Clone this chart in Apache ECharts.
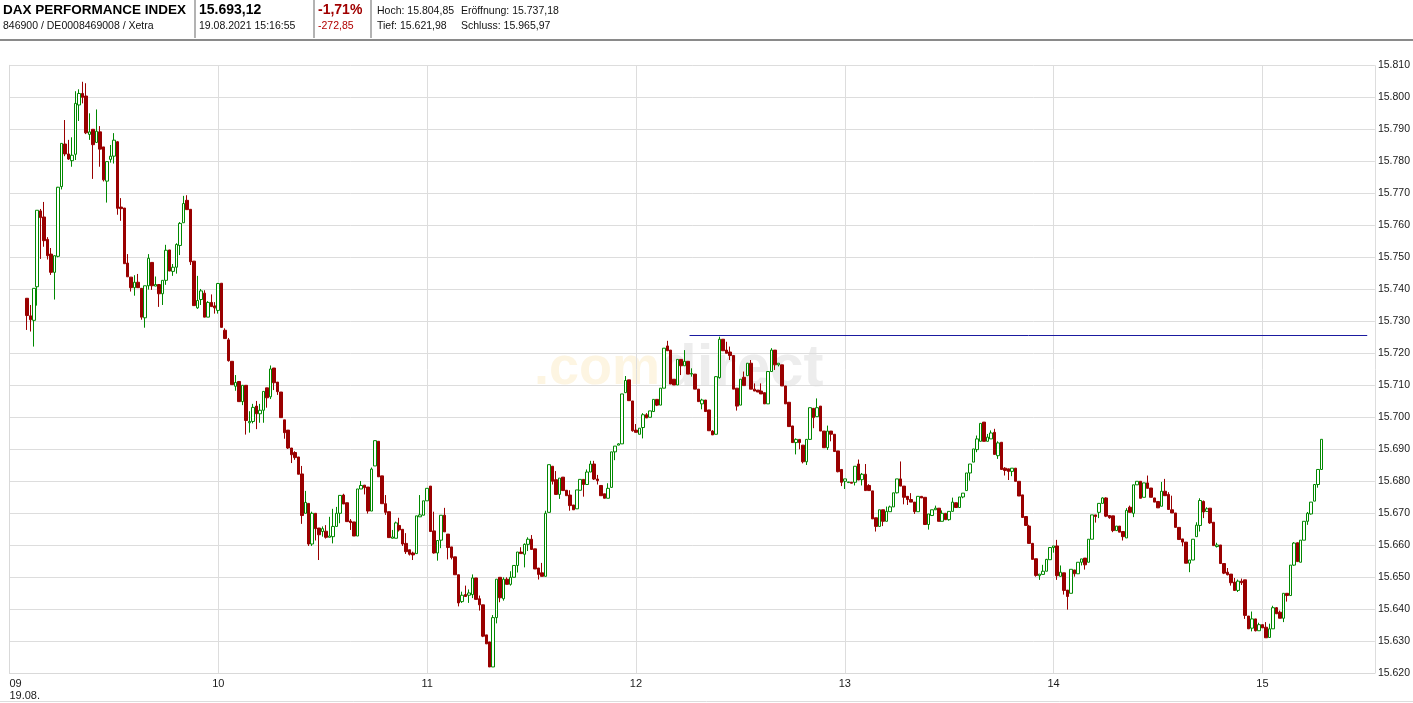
<!DOCTYPE html>
<html>
<head>
<meta charset="utf-8">
<script src="https://cdn.jsdelivr.net/npm/echarts@6/dist/echarts.min.js"></script>
<style>
html,body{margin:0;padding:0;background:#fff;}
#chart{width:1413px;height:703px;}
</style>
</head>
<body>
<div id="chart"></div>
<script>
// ---- header texts ----
const titleText = 'DAX PERFORMANCE INDEX';
const idText = '846900 / DE0008469008 / Xetra';
const lastText = '15.693,12';
const timeText = '19.08.2021 15:16:55';
const pctText = '-1,71%';
const diffText = '-272,85';
const highText = 'Hoch: 15.804,85';
const openText = 'Eröffnung: 15.737,18';
const lowText = 'Tief: 15.621,98';
const prevText = 'Schluss: 15.965,97';
const watermarkA = '.com';
const watermarkB = 'direct';

// ---- axis labels ----
const hourLabels = ['09', '10', '11', '12', '13', '14', '15'];
const dateLabel = '19.08.';
const axisEndMinute = 392.3;      // minutes after 09:00 at the right edge
const firstBarMinute = 5;         // bar close time of first 1-minute bar (09:05)
const priceMin = 15620, priceMax = 15810, priceStep = 10;

// ---- horizontal line drawn on the chart ----
const levelLine = { from: 195.4, to: 390.1, value: 15725.6 };

// ---- 1-minute OHLC values ----
const open = [
15737.2,15731.7,15730.3,15740.8,15764.5,15762.6,15755.6,15751.0,15745.3,15750.3,
15772.1,15785.4,15782.3,15780.2,15782.2,15797.6,15801.2,15800.4,15788.4,15790.0,
15785.9,15789.2,15784.5,15773.8,15780.6,15781.6,15786.1,15765.7,15765.4,15748.2,
15743.8,15740.5,15742.2,15740.3,15731.1,15741.1,15748.4,15741.0,15741.5,15738.6,
15742.8,15752.3,15745.6,15746.9,15753.7,15760.8,15767.8,15765.0,15748.8,15734.2,
15736.8,15738.8,15731.3,15735.9,15734.8,15733.4,15741.9,15727.2,15724.2,15717.5,
15709.7,15711.2,15704.9,15710.0,15698.3,15698.7,15703.5,15701.1,15702.2,15709.2,
15706.4,15715.4,15711.0,15707.9,15699.2,15696.0,15690.4,15689.0,15687.6,15682.3,
15670.0,15673.1,15660.4,15670.0,15665.4,15664.3,15664.4,15662.5,15662.7,15665.9,
15670.0,15675.7,15673.3,15667.6,15667.3,15662.9,15677.6,15678.8,15678.2,15670.7,
15684.8,15692.5,15681.7,15673.0,15670.5,15662.2,15662.2,15666.2,15665.0,15660.6,
15658.6,15657.6,15657.4,15668.9,15669.4,15673.9,15678.5,15664.5,15657.6,15661.6,
15669.4,15663.5,15659.5,15656.4,15650.8,15642.4,15644.6,15644.4,15644.6,15649.8,
15643.3,15641.4,15632.0,15629.8,15621.98,15637.4,15650.0,15643.3,15649.4,15647.8,
15650.0,15653.7,15657.9,15657.2,15660.3,15661.9,15658.9,15652.9,15651.4,15650.3,
15670.3,15684.7,15680.5,15675.9,15681.3,15677.2,15675.7,15672.6,15671.4,15677.2,
15680.6,15679.0,15682.9,15685.4,15680.7,15678.7,15676.1,15674.7,15678.1,15689.2,
15691.3,15691.7,15707.7,15711.7,15705.1,15696.0,15694.7,15696.8,15700.8,15700.0,
15701.8,15705.6,15703.8,15709.1,15722.3,15721.0,15711.9,15710.1,15718.1,15716.1,
15717.5,15713.5,15713.5,15708.8,15704.2,15705.4,15702.3,15695.7,15694.7,15712.4,
15724.4,15721.0,15720.4,15719.3,15709.1,15703.8,15712.5,15713.0,15716.9,15708.8,
15708.5,15708.2,15707.7,15704.2,15714.3,15721.0,15716.4,15716.4,15709.8,15704.7,
15697.3,15692.1,15693.1,15691.3,15686.1,15693.1,15702.8,15700.2,15703.5,15695.7,
15690.5,15695.7,15694.7,15689.5,15683.7,15680.0,15679.6,15679.7,15679.7,15685.4,
15680.5,15682.2,15678.7,15677.0,15668.6,15665.9,15671.1,15667.5,15670.5,15672.0,
15676.4,15680.75,15678.5,15675.3,15674.3,15673.5,15670.5,15675.3,15675.0,15666.5,
15669.3,15671.1,15671.6,15667.5,15670.0,15668.0,15670.6,15673.3,15671.8,15675.1,
15677.1,15682.6,15686.0,15689.9,15692.5,15698.5,15692.5,15693.25,15695.3,15688.0,
15692.2,15684.1,15683.9,15683.1,15684.1,15680.0,15675.75,15669.0,15666.0,15660.6,
15655.8,15650.5,15650.9,15651.9,15655.5,15659.3,15659.8,15650.3,15651.4,15646.0,
15645.0,15652.3,15651.1,15654.7,15656.0,15654.7,15661.9,15669.5,15670.3,15673.1,
15674.8,15669.3,15669.2,15664.6,15666.0,15664.3,15662.3,15671.9,15670.0,15678.9,
15680.0,15675.0,15679.5,15677.9,15674.8,15673.7,15672.2,15676.9,15675.9,15671.1,
15670.1,15665.6,15662.0,15661.0,15654.4,15655.4,15662.7,15666.2,15673.7,15670.6,
15671.6,15667.2,15659.6,15660.1,15654.3,15651.6,15651.0,15648.5,15645.9,15648.8,
15649.2,15637.9,15634.1,15637.0,15633.3,15635.2,15634.4,15631.2,15633.9,15640.5,
15639.1,15637.2,15645.0,15644.3,15653.8,15660.8,15654.7,15661.6,15667.5,15669.8,
15673.8,15679.0,15683.7
];
const close = [
15731.8,15730.5,15740.3,15764.7,15762.4,15755.2,15750.5,15745.3,15750.5,15771.9,
15785.6,15782.3,15780.7,15781.9,15798.1,15801.2,15800.0,15788.9,15789.2,15785.2,
15789.4,15783.8,15774.2,15779.9,15781.6,15786.6,15765.3,15765.2,15748.0,15743.9,
15740.5,15742.2,15740.5,15731.3,15741.1,15749.7,15741.1,15741.5,15738.6,15742.8,
15752.2,15745.7,15746.9,15754.0,15760.6,15766.8,15764.9,15748.6,15734.9,15736.5,
15739.5,15731.3,15735.9,15734.6,15734.2,15741.8,15728.1,15724.6,15717.7,15710.2,
15710.9,15704.9,15710.0,15699.0,15698.7,15703.1,15701.1,15702.2,15708.1,15706.1,
15715.1,15710.8,15708.0,15699.9,15695.2,15690.4,15688.3,15687.4,15682.2,15669.3,
15673.4,15660.4,15670.0,15665.2,15663.3,15665.2,15662.5,15662.9,15665.9,15670.0,
15675.6,15672.9,15667.4,15667.1,15662.9,15677.6,15678.7,15678.0,15670.7,15683.8,
15692.7,15681.4,15673.0,15670.3,15662.4,15662.6,15667.0,15664.8,15660.4,15658.0,
15657.2,15657.0,15669.2,15669.5,15673.9,15677.8,15664.3,15657.6,15661.5,15669.4,
15664.2,15659.3,15656.2,15650.8,15642.0,15644.4,15644.0,15645.1,15649.8,15643.1,
15641.4,15631.6,15629.2,15621.98,15637.4,15649.4,15643.6,15649.4,15647.8,15650.0,
15653.7,15657.9,15657.4,15660.3,15661.9,15658.7,15652.6,15650.9,15650.3,15670.0,
15685.2,15680.0,15675.9,15681.0,15677.1,15675.5,15672.4,15671.1,15677.3,15680.6,
15679.0,15682.9,15685.4,15680.7,15680.2,15675.5,15674.7,15677.8,15689.2,15691.0,
15691.7,15707.3,15711.5,15705.2,15695.8,15695.3,15696.6,15700.8,15699.8,15702.0,
15705.6,15703.8,15709.1,15721.6,15720.8,15710.4,15710.1,15718.1,15716.1,15717.5,
15713.5,15713.7,15708.8,15704.9,15705.4,15701.8,15695.8,15694.5,15712.7,15724.4,
15720.8,15720.0,15719.3,15708.8,15703.5,15711.9,15709.9,15716.9,15708.8,15708.2,
15707.9,15707.3,15704.2,15714.3,15721.0,15716.4,15716.9,15709.8,15704.2,15697.1,
15692.1,15693.1,15692.1,15686.1,15693.1,15703.0,15699.9,15703.0,15695.7,15690.5,
15695.7,15694.7,15689.3,15683.0,15679.7,15680.75,15679.8,15679.4,15684.7,15680.4,
15682.2,15677.1,15677.1,15668.25,15665.9,15671.1,15667.5,15670.6,15672.0,15676.4,
15680.75,15678.5,15675.0,15674.3,15673.5,15670.5,15675.3,15674.8,15666.5,15669.8,
15671.1,15671.6,15667.5,15670.0,15668.0,15670.6,15673.5,15671.8,15675.1,15676.3,
15682.6,15685.4,15690.1,15693.25,15698.1,15692.5,15693.8,15695.1,15688.4,15692.0,
15683.7,15683.4,15683.1,15684.1,15680.0,15675.4,15668.7,15666.2,15660.6,15655.6,
15650.6,15651.0,15651.9,15655.6,15659.3,15659.8,15650.5,15651.6,15645.9,15644.0,
15652.5,15651.1,15654.7,15655.75,15653.9,15661.9,15669.5,15669.0,15673.1,15674.8,
15669.1,15668.6,15664.6,15666.0,15664.1,15662.7,15670.9,15670.3,15678.9,15680.0,
15674.7,15679.5,15677.8,15675.0,15673.5,15671.7,15676.9,15675.5,15671.2,15670.1,
15665.6,15661.8,15661.0,15654.4,15655.4,15661.9,15666.3,15674.0,15670.4,15671.4,
15667.0,15659.9,15660.1,15654.3,15651.3,15650.8,15648.3,15645.9,15648.8,15648.3,
15638.1,15633.9,15637.0,15633.3,15635.2,15634.2,15631.1,15633.9,15640.5,15638.6,
15637.2,15645.0,15644.3,15653.8,15660.7,15654.9,15661.6,15667.5,15670.0,15673.5,
15679.0,15683.7,15693.12
];
const low = [
15727.3,15726.8,15722.1,15734.9,15749.5,15753.3,15749.3,15744.5,15736.8,15750.0,
15771.2,15781.6,15780.4,15778.3,15780.4,15792.6,15798.1,15788.5,15786.7,15774.5,
15785.9,15778.3,15773.7,15767.1,15779.6,15779.3,15763.3,15761.4,15748.0,15743.9,
15739.3,15738.0,15740.5,15730.5,15728.0,15739.9,15739.8,15741.0,15734.5,15735.1,
15741.4,15745.7,15744.2,15744.9,15750.7,15760.8,15764.9,15747.6,15734.9,15733.9,
15735.1,15731.3,15731.3,15734.6,15732.4,15732.4,15728.1,15724.6,15717.4,15710.2,
15708.3,15704.9,15703.8,15694.6,15695.2,15698.1,15696.3,15698.3,15698.3,15703.0,
15705.7,15708.5,15707.0,15699.9,15693.3,15690.1,15685.7,15686.7,15682.2,15666.7,
15670.0,15659.8,15659.8,15661.5,15655.4,15662.7,15662.1,15662.5,15660.6,15665.9,
15666.9,15672.9,15667.4,15664.8,15662.9,15662.9,15677.6,15675.9,15669.9,15670.7,
15684.8,15681.4,15673.0,15669.5,15662.4,15662.2,15662.2,15664.3,15659.8,15657.3,
15656.8,15655.4,15657.4,15668.9,15669.4,15673.9,15664.3,15657.4,15655.2,15659.1,
15664.2,15655.6,15655.6,15650.8,15640.9,15642.0,15644.0,15642.0,15643.5,15643.1,
15639.6,15631.3,15629.2,15621.98,15621.98,15635.6,15642.2,15642.7,15647.8,15647.4,
15650.0,15651.5,15657.4,15653.1,15658.2,15658.7,15652.6,15649.3,15650.3,15650.3,
15670.3,15679.0,15675.9,15674.5,15677.1,15675.5,15670.8,15671.1,15671.4,15677.2,
15675.2,15679.0,15682.9,15680.4,15679.0,15675.5,15674.7,15674.7,15678.1,15686.6,
15691.3,15691.7,15707.7,15705.2,15695.5,15695.3,15694.7,15693.4,15699.8,15700.0,
15701.8,15703.5,15703.8,15709.1,15720.8,15710.4,15710.1,15710.1,15713.2,15716.1,
15713.5,15712.7,15708.8,15704.9,15702.5,15701.8,15695.8,15694.5,15694.7,15712.1,
15720.8,15720.0,15717.9,15708.8,15702.1,15703.8,15709.9,15713.0,15708.8,15708.2,
15707.9,15707.3,15704.2,15704.2,15714.3,15714.8,15715.9,15709.8,15704.2,15697.1,
15692.1,15688.4,15690.0,15685.6,15685.1,15692.9,15696.6,15700.2,15695.7,15690.5,
15689.8,15692.5,15689.3,15682.8,15678.5,15677.6,15679.6,15679.4,15678.7,15680.4,
15678.7,15677.1,15677.1,15668.25,15664.3,15665.9,15666.0,15667.5,15670.5,15672.0,
15676.2,15678.5,15672.8,15672.6,15673.5,15669.8,15670.5,15674.8,15666.5,15664.9,
15669.3,15671.1,15667.5,15667.5,15668.0,15667.7,15670.6,15671.8,15671.8,15674.7,
15677.1,15680.2,15686.0,15689.1,15692.5,15692.5,15692.5,15693.25,15688.4,15687.0,
15683.7,15681.8,15680.4,15681.6,15680.0,15675.4,15668.7,15666.2,15660.6,15655.6,
15650.2,15649.2,15650.9,15651.9,15655.5,15657.7,15649.2,15650.3,15644.6,15639.9,
15645.0,15650.2,15651.1,15653.7,15652.4,15654.7,15661.9,15667.1,15668.5,15673.1,
15668.8,15668.3,15664.1,15664.6,15664.1,15661.5,15662.3,15670.3,15668.8,15678.9,
15674.7,15675.0,15677.8,15675.0,15673.5,15671.7,15672.2,15675.5,15671.2,15670.1,
15665.6,15661.8,15659.7,15654.4,15651.6,15655.4,15662.7,15664.3,15668.5,15670.4,
15666.7,15659.9,15659.3,15654.3,15651.0,15650.6,15647.4,15645.9,15645.4,15647.6,
15637.0,15633.9,15633.1,15633.1,15633.3,15634.2,15631.1,15631.2,15633.9,15638.6,
15637.2,15636.0,15642.4,15644.3,15653.6,15654.9,15654.7,15661.6,15666.4,15669.6,
15673.8,15678.0,15683.7
];
const high = [
15737.2,15735.1,15740.3,15764.7,15765.1,15767.3,15756.3,15752.9,15750.5,15772.0,
15785.6,15792.9,15786.7,15787.5,15801.9,15802.5,15804.85,15804.4,15795.0,15790.0,
15796.2,15791.0,15784.5,15779.9,15785.1,15788.8,15786.3,15768.5,15765.4,15751.0,
15743.8,15744.4,15744.8,15740.3,15741.1,15751.0,15748.4,15744.0,15741.5,15742.8,
15753.9,15752.3,15747.9,15754.4,15761.0,15769.2,15769.4,15765.0,15748.8,15744.2,
15740.1,15739.7,15736.3,15738.4,15736.0,15742.0,15741.9,15727.8,15724.8,15717.5,
15713.2,15711.2,15710.0,15710.0,15701.9,15704.2,15705.1,15704.2,15708.1,15709.2,
15716.2,15715.4,15711.0,15707.9,15699.2,15696.0,15690.4,15689.4,15687.6,15684.8,
15677.0,15673.1,15670.5,15670.0,15665.4,15665.9,15666.3,15668.9,15671.4,15672.0,
15675.6,15676.1,15673.3,15668.2,15667.3,15677.6,15680.1,15678.8,15678.2,15684.3,
15692.7,15692.5,15681.7,15675.7,15670.5,15664.8,15667.4,15668.6,15665.0,15663.8,
15658.6,15658.0,15669.2,15675.7,15673.9,15677.8,15678.5,15670.5,15661.5,15669.4,
15671.7,15663.5,15659.5,15656.4,15650.8,15645.5,15647.4,15646.2,15650.9,15649.8,
15644.3,15641.4,15632.0,15629.8,15638.2,15649.4,15650.0,15650.0,15650.0,15651.9,
15653.7,15657.9,15659.4,15660.6,15662.5,15663.2,15658.9,15652.9,15654.5,15670.8,
15685.2,15684.7,15683.2,15681.0,15681.3,15677.2,15677.2,15672.6,15677.3,15680.6,
15680.6,15683.7,15686.4,15686.4,15682.0,15678.7,15676.1,15679.4,15689.2,15691.0,
15691.9,15707.3,15712.9,15711.7,15705.1,15697.9,15696.6,15701.3,15701.3,15702.0,
15705.6,15705.6,15709.1,15721.6,15723.9,15721.0,15711.9,15718.1,15718.1,15721.0,
15717.5,15715.3,15713.5,15708.8,15705.8,15705.4,15702.3,15696.0,15712.9,15725.2,
15724.4,15723.6,15722.1,15719.3,15709.1,15711.9,15714.3,15716.9,15717.9,15710.6,
15708.5,15710.6,15707.7,15714.3,15721.6,15721.0,15716.9,15716.4,15709.8,15704.7,
15697.3,15693.4,15693.1,15691.3,15693.1,15703.0,15702.8,15705.9,15703.5,15695.7,
15697.4,15695.7,15694.7,15689.5,15683.7,15680.75,15679.8,15679.7,15684.7,15686.8,
15682.6,15685.4,15679.1,15677.0,15668.6,15671.1,15671.1,15672.1,15672.4,15676.4,
15680.75,15686.2,15678.5,15675.3,15676.3,15673.5,15675.3,15675.3,15675.0,15669.8,
15671.1,15672.4,15671.6,15670.9,15670.0,15670.6,15674.9,15673.3,15675.1,15676.3,
15682.6,15685.4,15690.1,15694.3,15698.1,15698.5,15694.8,15695.9,15696.4,15692.5,
15692.2,15684.4,15683.9,15684.1,15684.1,15680.0,15675.75,15669.0,15666.4,15660.75,
15655.8,15651.0,15653.9,15655.75,15659.4,15659.8,15661.7,15653.7,15651.4,15646.0,
15652.5,15652.3,15654.7,15655.75,15656.0,15661.9,15669.5,15669.5,15673.1,15675.0,
15675.0,15669.3,15669.2,15666.0,15666.0,15664.3,15671.6,15672.4,15678.9,15680.0,
15680.0,15679.5,15681.8,15677.9,15674.8,15673.7,15679.8,15680.75,15676.6,15675.5,
15670.1,15665.6,15662.0,15661.0,15655.4,15661.9,15667.2,15674.7,15674.0,15671.9,
15671.6,15667.2,15660.8,15660.1,15654.3,15652.9,15651.0,15649.8,15649.3,15649.6,
15649.2,15637.9,15639.3,15637.0,15635.8,15635.2,15636.0,15635.5,15641.1,15640.7,
15639.6,15645.0,15645.0,15653.8,15661.0,15660.8,15661.6,15667.5,15670.4,15673.5,
15679.0,15683.7,15693.12
];

// build [minute, open, close, low, high]
const candles = open.map((o, i) => [firstBarMinute + i, o, close[i], low[i], high[i]]);

const FONT = '"Liberation Sans", Arial, Helvetica, sans-serif';
const fmtPrice = v => { const s = String(Math.round(v)); return s.slice(0, s.length - 3) + '.' + s.slice(s.length - 3); };

function txt(text, x, y, size, weight, color) {
  return { type: 'text', x: x, y: y, silent: true,
    style: { text: text, fill: color, font: weight + ' ' + size + 'px ' + FONT, verticalAlign: 'middle', align: 'left' } };
}
function line(x1, y1, x2, y2, color, w) {
  return { type: 'line', silent: true, shape: { x1: x1, y1: y1, x2: x2, y2: y2 }, style: { stroke: color, lineWidth: w } };
}

const chart = echarts.init(document.getElementById('chart'), null, { renderer: 'canvas' });
chart.setOption({
  animation: false,
  backgroundColor: '#ffffff',
  grid: { left: 9.4, right: 37.3, top: 65.3, bottom: 29.7, containLabel: false },
  xAxis: {
    type: 'value', min: 0, max: axisEndMinute, interval: 60,
    axisLine: { show: true, lineStyle: { color: '#d9d9d9', width: 1 } },
    axisTick: { show: false },
    splitLine: { show: true, lineStyle: { color: '#dddddd', width: 1 } },
    axisLabel: {
      showMaxLabel: false,
      alignMinLabel: 'left',
      color: '#1a1a1a', fontSize: 11, fontFamily: FONT, lineHeight: 12, margin: 5,
      formatter: v => {
        const k = Math.round(v / 60);
        if (Math.abs(v - k * 60) > 0.01 || k >= hourLabels.length) return '';
        return k === 0 ? hourLabels[0] + '\n' + dateLabel : hourLabels[k];
      }
    }
  },
  yAxis: {
    type: 'value', position: 'right', min: priceMin, max: priceMax, interval: priceStep,
    scale: true,
    axisLine: { show: true, lineStyle: { color: '#d9d9d9', width: 1 } },
    axisTick: { show: false },
    splitLine: { show: true, lineStyle: { color: '#dddddd', width: 1 } },
    axisLabel: { formatter: fmtPrice, color: '#1a1a1a', fontSize: 10.5, fontFamily: FONT, margin: 3 }
  },
  series: [{
    type: 'candlestick',
    data: candles,
    barWidth: 3,
    itemStyle: {
      color: '#ffffff', color0: '#990000',
      borderColor: '#008800', borderColor0: '#990000', borderColorDoji: '#008800',
      borderWidth: 1
    },
    markLine: {
      silent: true, symbol: ['none', 'none'], label: { show: false },
      lineStyle: { color: '#1a1aa0', width: 1, type: 'solid' },
      data: [[{ coord: [levelLine.from, levelLine.value] }, { coord: [levelLine.to, levelLine.value] }]]
    }
  }],
  graphic: [
    // watermark
    { type: 'text', x: 660, y: 369, z: -10, silent: true,
      style: { text: watermarkA, fill: '#fdf5e2', font: 'bold 54px ' + FONT, align: 'right', verticalAlign: 'middle' } },
    { type: 'text', x: 660, y: 369, z: -10, silent: true,
      style: { text: watermarkB, fill: '#ededed', font: 'bold 60px ' + FONT, align: 'left', verticalAlign: 'middle' } },
    // header
    txt(titleText, 3, 10, 13.5, 'bold', '#000000'),
    txt(idText, 3, 26, 10.5, 'normal', '#111111'),
    txt(lastText, 199, 10, 14, 'bold', '#000000'),
    txt(timeText, 199, 26, 10.5, 'normal', '#111111'),
    txt(pctText, 318, 10, 14, 'bold', '#a00000'),
    txt(diffText, 318, 26, 10.5, 'normal', '#b00000'),
    txt(highText, 377, 11, 10.5, 'normal', '#111111'),
    txt(openText, 461, 11, 10.5, 'normal', '#111111'),
    txt(lowText, 377, 26, 10.5, 'normal', '#111111'),
    txt(prevText, 461, 26, 10.5, 'normal', '#111111'),
    line(195, 0, 195, 38, '#9a9a9a', 1.5),
    line(314, 0, 314, 38, '#9a9a9a', 1.5),
    line(371, 0, 371, 38, '#9a9a9a', 1.5),
    line(0, 40, 1413, 40, '#8a8a8a', 2),
    line(0, 701.5, 1413, 701.5, '#dddddd', 1)
  ]
});
</script>
</body>
</html>
